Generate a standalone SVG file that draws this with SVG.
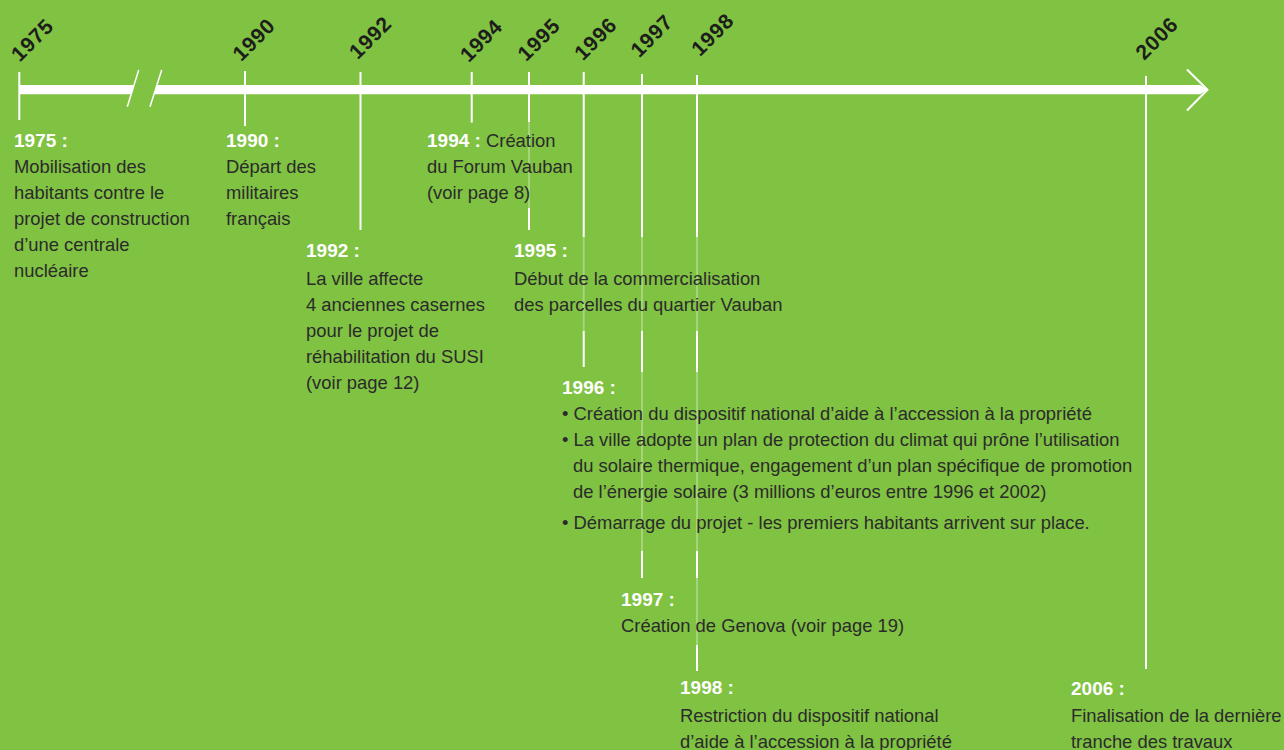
<svg xmlns="http://www.w3.org/2000/svg" width="1284" height="750" viewBox="0 0 1284 750">
<style>
.bg{fill:#80c242}
.bar{fill:#ffffff}
.thin{stroke:#ffffff;stroke-width:1.5;fill:none}
.tick{stroke:#ffffff;stroke-width:2;fill:none}
.faint{stroke-opacity:0.3}
.yr{font-family:"Liberation Sans",Arial,sans-serif;font-weight:bold;font-size:21px;letter-spacing:0.8px;fill:#1d1d1b;text-anchor:middle}
.lbl{font-family:"Liberation Sans",Arial,sans-serif;font-weight:bold;font-size:19px;fill:#ffffff}
.txt{font-family:"Liberation Sans",Arial,sans-serif;font-size:18.4px;fill:#2b2b2b}
</style>
<rect class="bg" x="0" y="0" width="1284" height="750"/>

<g id="axis">
  <polygon class="bar" points="19,85 134,85 131.2,94.3 19,94.3"/>
  <polygon class="bar" points="157,85 1200,85 1208,89.7 1200,94.3 154.2,94.3"/>
  <line class="thin" x1="138.7" y1="70" x2="127.3" y2="106.7"/>
  <line class="thin" x1="161.7" y1="70" x2="150" y2="106.7"/>
  <polyline class="tick" points="1187,69.5 1207.5,89.7 1187,110.5"/>
</g>

<g id="connectors">
  <line class="tick" x1="19.3" y1="72" x2="19.3" y2="120"/>
  <line class="tick" x1="245" y1="71" x2="245" y2="126"/>
  <line class="tick" x1="360.5" y1="72" x2="360.5" y2="230"/>
  <line class="tick" x1="471.7" y1="72" x2="471.7" y2="122.5"/>
  <line class="tick" x1="529" y1="72" x2="529" y2="122"/>
  <line class="tick faint" x1="529" y1="122" x2="529" y2="208"/>
  <line class="tick" x1="529" y1="208" x2="529" y2="230"/>
  <line class="tick" x1="583.7" y1="72" x2="583.7" y2="237"/>
  <line class="tick faint" x1="583.7" y1="237" x2="583.7" y2="331"/>
  <line class="tick" x1="583.7" y1="331" x2="583.7" y2="367"/>
  <line class="tick" x1="642" y1="74" x2="642" y2="237"/>
  <line class="tick faint" x1="642" y1="237" x2="642" y2="331"/>
  <line class="tick" x1="642" y1="331" x2="642" y2="372"/>
  <line class="tick faint" x1="642" y1="372" x2="642" y2="551"/>
  <line class="tick" x1="642" y1="551" x2="642" y2="578"/>
  <line class="tick" x1="697" y1="75" x2="697" y2="237"/>
  <line class="tick faint" x1="697" y1="237" x2="697" y2="331"/>
  <line class="tick" x1="697" y1="331" x2="697" y2="372"/>
  <line class="tick faint" x1="697" y1="372" x2="697" y2="551"/>
  <line class="tick" x1="697" y1="551" x2="697" y2="578"/>
  <line class="tick faint" x1="697" y1="578" x2="697" y2="645"/>
  <line class="tick" x1="697" y1="645" x2="697" y2="671"/>
  <line class="tick" x1="1146" y1="76" x2="1146" y2="669"/>
</g>

<g id="event-1975">
  <text class="yr" x="37.5" y="45" transform="rotate(-45 37.5 45)">1975</text>
  <text class="lbl" x="14" y="147">1975 :</text>
  <text class="txt" x="14" y="173">Mobilisation des</text>
  <text class="txt" x="14" y="199">habitants contre le</text>
  <text class="txt" x="14" y="225">projet de construction</text>
  <text class="txt" x="14" y="251">d’une centrale</text>
  <text class="txt" x="14" y="277">nucléaire</text>
</g>

<g id="event-1990">
  <text class="yr" x="259" y="44.7" transform="rotate(-45 259 44.7)">1990</text>
  <text class="lbl" x="226" y="147">1990 :</text>
  <text class="txt" x="226" y="173">Départ des</text>
  <text class="txt" x="226" y="199">militaires</text>
  <text class="txt" x="226" y="225">français</text>
</g>

<g id="event-1992">
  <text class="yr" x="375.5" y="42.5" transform="rotate(-45 375.5 42.5)">1992</text>
  <text class="lbl" x="306" y="257">1992 :</text>
  <text class="txt" x="306" y="285">La ville affecte</text>
  <text class="txt" x="306" y="311">4 anciennes casernes</text>
  <text class="txt" x="306" y="337">pour le projet de</text>
  <text class="txt" x="306" y="363">réhabilitation du SUSI</text>
  <text class="txt" x="306" y="389">(voir page 12)</text>
</g>

<g id="event-1994">
  <text class="yr" x="486.3" y="45.5" transform="rotate(-45 486.3 45.5)">1994</text>
  <text class="txt" x="427" y="147"><tspan class="lbl">1994 :</tspan> Création</text>
  <text class="txt" x="427" y="173">du Forum Vauban</text>
  <text class="txt" x="427" y="199">(voir page 8)</text>
</g>

<g id="event-1995">
  <text class="yr" x="544" y="44.7" transform="rotate(-45 544 44.7)">1995</text>
  <text class="lbl" x="514" y="257">1995 :</text>
  <text class="txt" x="514" y="285">Début de la commercialisation</text>
  <text class="txt" x="514" y="311">des parcelles du quartier Vauban</text>
</g>

<g id="event-1996">
  <text class="yr" x="600.7" y="43.8" transform="rotate(-45 600.7 43.8)">1996</text>
  <text class="lbl" x="562" y="394">1996 :</text>
  <text class="txt" x="562" y="420">• Création du dispositif national d’aide à l’accession à la propriété</text>
  <text class="txt" x="562" y="446">• La ville adopte un plan de protection du climat qui prône l’utilisation</text>
  <text class="txt" x="573" y="472">du solaire thermique, engagement d’un plan spécifique de promotion</text>
  <text class="txt" x="573" y="498">de l’énergie solaire (3 millions d’euros entre 1996 et 2002)</text>
  <text class="txt" x="562" y="529">• Démarrage du projet - les premiers habitants arrivent sur place.</text>
</g>

<g id="event-1997">
  <text class="yr" x="656.8" y="40.8" transform="rotate(-45 656.8 40.8)">1997</text>
  <text class="lbl" x="621" y="606">1997 :</text>
  <text class="txt" x="621" y="632">Création de Genova (voir page 19)</text>
</g>

<g id="event-1998">
  <text class="yr" x="717.7" y="39.7" transform="rotate(-45 717.7 39.7)">1998</text>
  <text class="lbl" x="680" y="694">1998 :</text>
  <text class="txt" x="680" y="722">Restriction du dispositif national</text>
  <text class="txt" x="680" y="748">d’aide à l’accession à la propriété</text>
</g>

<g id="event-2006">
  <text class="yr" x="1162" y="43.3" transform="rotate(-45 1162 43.3)">2006</text>
  <text class="lbl" x="1071" y="695">2006 :</text>
  <text class="txt" x="1071" y="722">Finalisation de la dernière</text>
  <text class="txt" x="1071" y="748">tranche des travaux</text>
</g>
</svg>
